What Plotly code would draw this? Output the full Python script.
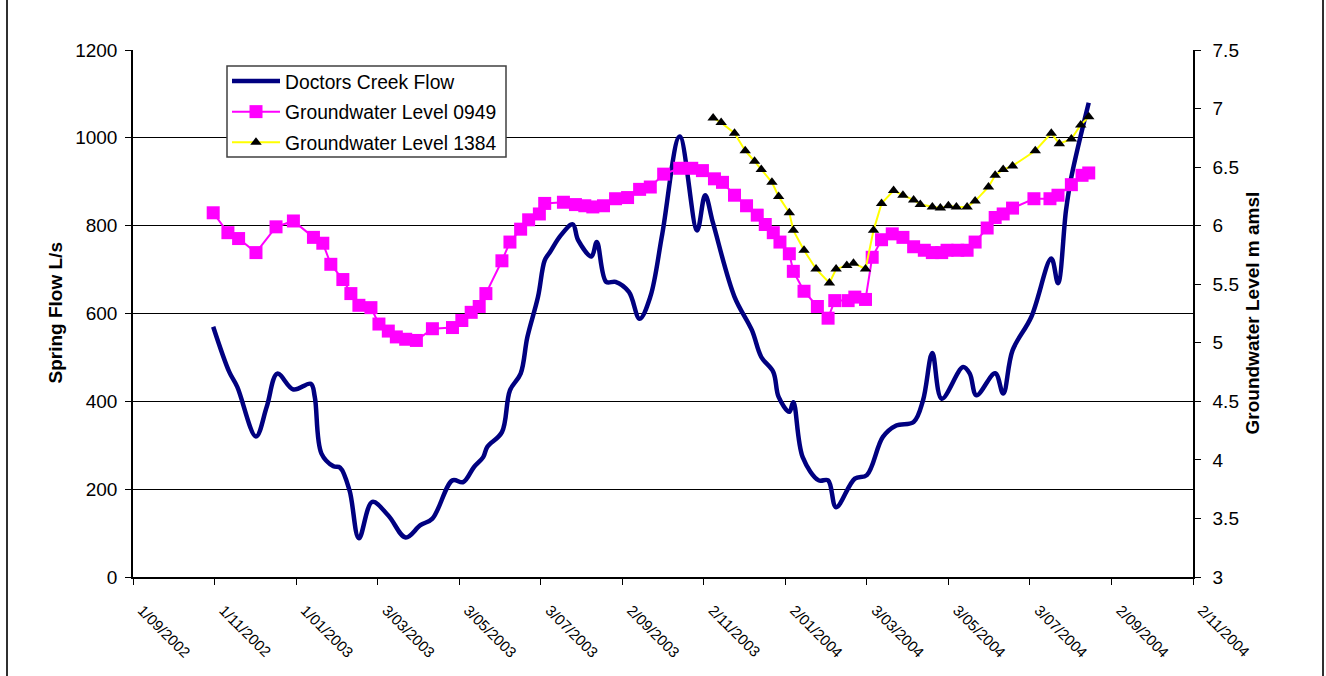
import plotly.graph_objects as go

# Doctors Creek flow (L/s)
flow_dates = [
    "2002-10-31", "2002-11-12", "2002-11-18", "2002-12-02", "2002-12-10", "2002-12-18",
    "2002-12-30", "2003-01-12", "2003-01-15", "2003-01-20", "2003-01-29", "2003-02-03",
    "2003-02-10", "2003-02-17", "2003-02-27", "2003-03-11", "2003-03-24", "2003-04-04",
    "2003-04-13", "2003-04-28", "2003-05-06", "2003-05-14", "2003-05-21", "2003-05-24",
    "2003-06-04", "2003-06-10", "2003-06-18", "2003-06-23", "2003-07-01", "2003-07-06",
    "2003-07-10", "2003-07-18", "2003-07-27", "2003-07-31", "2003-08-10", "2003-08-14",
    "2003-08-21", "2003-08-28", "2003-09-07", "2003-09-15", "2003-09-23", "2003-10-02",
    "2003-10-15", "2003-10-28", "2003-11-03", "2003-11-09", "2003-11-25", "2003-12-08",
    "2003-12-15", "2003-12-24", "2003-12-28", "2004-01-05", "2004-01-08", "2004-01-15",
    "2004-01-27", "2004-02-03", "2004-02-09", "2004-02-23", "2004-03-03", "2004-03-15",
    "2004-03-25", "2004-04-07", "2004-04-14", "2004-04-21", "2004-04-28", "2004-05-14",
    "2004-05-19", "2004-05-24", "2004-06-07", "2004-06-13", "2004-06-20", "2004-07-04",
    "2004-07-19", "2004-07-24", "2004-07-30", "2004-08-03", "2004-08-16",
]
flow_values = [
    570, 467, 433, 320, 387, 463,
    427, 440, 410, 281, 252, 249,
    197, 88, 171, 140, 90, 118,
    133, 220, 216, 250, 273, 296,
    330, 425, 463, 546, 638, 721,
    740, 778, 803, 767, 730, 763,
    672, 672, 649, 588, 638, 782,
    1003, 789, 869, 805, 638, 562,
    501, 467, 410, 376, 398, 273,
    220, 220, 159, 224, 232, 319,
    345, 353, 402, 510, 406, 478,
    463, 414, 464, 418, 516, 592,
    725, 669, 835, 911, 1080,
]

# Bore 0949 groundwater level (m amsl)
gw0949_dates = [
    "2002-10-31", "2002-11-11", "2002-11-19", "2002-12-02", "2002-12-17", "2002-12-30",
    "2003-01-14", "2003-01-21", "2003-01-27", "2003-02-05", "2003-02-11", "2003-02-17",
    "2003-02-26", "2003-03-04", "2003-03-11", "2003-03-17", "2003-03-24", "2003-04-01",
    "2003-04-13", "2003-04-28", "2003-05-05", "2003-05-12", "2003-05-18", "2003-05-23",
    "2003-06-04", "2003-06-10", "2003-06-18", "2003-06-24", "2003-07-02", "2003-07-06",
    "2003-07-20", "2003-07-29", "2003-08-05", "2003-08-11", "2003-08-19", "2003-08-28",
    "2003-09-06", "2003-09-15", "2003-09-23", "2003-10-03", "2003-10-15", "2003-10-24",
    "2003-11-01", "2003-11-10", "2003-11-16", "2003-11-25", "2003-12-04", "2003-12-12",
    "2003-12-18", "2003-12-24", "2003-12-29", "2004-01-05", "2004-01-08", "2004-01-16",
    "2004-01-26", "2004-02-03", "2004-02-08", "2004-02-18", "2004-02-23", "2004-03-02",
    "2004-03-07", "2004-03-14", "2004-03-22", "2004-03-30", "2004-04-07", "2004-04-15",
    "2004-04-21", "2004-04-28", "2004-05-02", "2004-05-10", "2004-05-17", "2004-05-23",
    "2004-06-01", "2004-06-07", "2004-06-13", "2004-06-20", "2004-07-06", "2004-07-18",
    "2004-07-24", "2004-08-03", "2004-08-11", "2004-08-16",
]
gw0949_values = [
    6.11, 5.94, 5.89, 5.77, 5.99, 6.04,
    5.90, 5.85, 5.67, 5.54, 5.42, 5.32,
    5.30, 5.16, 5.10, 5.05, 5.03, 5.02,
    5.12, 5.13, 5.19, 5.26, 5.31, 5.42,
    5.70, 5.86, 5.97, 6.05, 6.10, 6.19,
    6.20, 6.18, 6.17, 6.16, 6.17, 6.23,
    6.24, 6.31, 6.33, 6.44, 6.49, 6.49,
    6.47, 6.40, 6.37, 6.26, 6.17, 6.09,
    6.01, 5.94, 5.86, 5.76, 5.61, 5.44,
    5.31, 5.21, 5.36, 5.36, 5.39, 5.37,
    5.73, 5.88, 5.93, 5.90, 5.82, 5.79,
    5.77, 5.77, 5.79, 5.79, 5.79, 5.86,
    5.98, 6.07, 6.10, 6.15, 6.23, 6.23,
    6.26, 6.35, 6.43, 6.45,
]

# Bore 1384 groundwater level (m amsl)
gw1384_dates = [
    "2003-11-09", "2003-11-15", "2003-11-25", "2003-12-03", "2003-12-10", "2003-12-15",
    "2003-12-23", "2003-12-28", "2004-01-05", "2004-01-08", "2004-01-16", "2004-01-25",
    "2004-02-04", "2004-02-09", "2004-02-17", "2004-02-22", "2004-03-02", "2004-03-08",
    "2004-03-14", "2004-03-23", "2004-03-30", "2004-04-07", "2004-04-12", "2004-04-21",
    "2004-04-27", "2004-05-03", "2004-05-09", "2004-05-17", "2004-05-23", "2004-06-02",
    "2004-06-07", "2004-06-13", "2004-06-20", "2004-07-07", "2004-07-19", "2004-07-25",
    "2004-08-03", "2004-08-10", "2004-08-16",
]
gw1384_values = [
    6.92, 6.88, 6.79, 6.64, 6.55, 6.48,
    6.37, 6.25, 6.11, 5.96, 5.79, 5.63,
    5.51, 5.63, 5.66, 5.68, 5.63, 5.96,
    6.19, 6.30, 6.26, 6.22, 6.18, 6.16,
    6.15, 6.17, 6.16, 6.16, 6.21, 6.33,
    6.43, 6.48, 6.51, 6.64, 6.79, 6.70,
    6.74, 6.86, 6.93,
]

# Date axis labels every 61 days
tick_dates = [
    "2002-09-01", "2002-11-01", "2003-01-01", "2003-03-03", "2003-05-03", "2003-07-03",
    "2003-09-02", "2003-11-02", "2004-01-02", "2004-03-03", "2004-05-03", "2004-07-03",
    "2004-09-02", "2004-11-02",
]
tick_labels = [
    "1/09/2002", "1/11/2002", "1/01/2003", "3/03/2003", "3/05/2003", "3/07/2003",
    "2/09/2003", "2/11/2003", "2/01/2004", "3/03/2004", "3/05/2004", "3/07/2004",
    "2/09/2004", "2/11/2004",
]

FONT = "Liberation Sans, Arial, sans-serif"

# plot area in pixels: x 133..1193, y 50..577
PX_L, PX_R, PX_T, PX_B = 133, 1193, 50, 577


def px_x(px):
    return (px - PX_L) / (PX_R - PX_L)


def px_y(py):
    return (PX_B - py) / (PX_B - PX_T)


fig = go.Figure()

fig.add_trace(go.Scatter(
    x=flow_dates, y=flow_values, name="Doctors Creek Flow",
    mode="lines", line=dict(color="#000080", width=4.5, shape="spline", smoothing=1.0),
    legendgroup="a",
))
fig.add_trace(go.Scatter(
    x=gw0949_dates, y=gw0949_values, name="Groundwater Level 0949", yaxis="y2",
    mode="lines+markers", line=dict(color="#FF00FF", width=2),
    marker=dict(symbol="square", size=13, color="#FF00FF"),
    legendgroup="b",
))
fig.add_trace(go.Scatter(
    x=gw1384_dates, y=gw1384_values, name="Groundwater Level 1384", yaxis="y2",
    mode="lines+markers", line=dict(color="#FFFF00", width=2),
    marker=dict(symbol="triangle-up", size=10, color="#000000"),
    legendgroup="c",
))

fig.update_layout(
    width=1326, height=676,
    margin=dict(l=PX_L, r=1326 - PX_R, t=PX_T, b=676 - PX_B),
    paper_bgcolor="white", plot_bgcolor="white",
    font=dict(family=FONT, color="black", size=18),
    showlegend=True,
    legend=dict(
        x=px_x(227), y=px_y(62), xanchor="left", yanchor="top",
        bgcolor="rgba(0,0,0,0)", borderwidth=0,
        font=dict(size=19.3, family=FONT), traceorder="grouped", tracegroupgap=2.5,
        itemwidth=48,
    ),
    xaxis=dict(
        type="date", range=["2002-09-01", "2004-11-02"],
        tickvals=tick_dates, ticktext=tick_labels, tickangle=45,
        tickfont=dict(size=15, family=FONT),
        ticks="outside", ticklen=6, tickcolor="black",
        showgrid=False, zeroline=False,
        showline=True, linecolor="black", linewidth=1.5,
        ticklabelstandoff=11, ticklabelshift=9,
    ),
    yaxis=dict(
        range=[0, 1200], dtick=200, tickformat="d",
        tickfont=dict(size=19, family=FONT),
        ticks="outside", ticklen=6, tickcolor="black",
        showgrid=True, gridcolor="black", gridwidth=1,
        zeroline=False, showline=True, linecolor="black", linewidth=1.5,
        ticklabelstandoff=4,
    ),
    yaxis2=dict(
        range=[3, 7.5], dtick=0.5, overlaying="y", side="right",
        tickfont=dict(size=19, family=FONT),
        ticks="outside", ticklen=6, tickcolor="black",
        showgrid=False, zeroline=False,
        showline=True, linecolor="black", linewidth=1.5,
        ticklabelstandoff=8,
    ),
    annotations=[
        dict(text="<b>Spring Flow L/s</b>", textangle=-90, showarrow=False,
             xref="paper", yref="paper", x=px_x(55), y=0.5,
             xanchor="center", yanchor="middle", font=dict(size=19, family=FONT)),
        dict(text="<b>Groundwater Level m amsl</b>", textangle=-90, showarrow=False,
             xref="paper", yref="paper", x=px_x(1252), y=0.5,
             xanchor="center", yanchor="middle", font=dict(size=19, family=FONT)),
    ],
    shapes=[
        # legend frame
        dict(type="rect", xref="paper", yref="paper", layer="above",
             x0=px_x(227), x1=px_x(506), y0=px_y(157), y1=px_y(66),
             fillcolor="white", line=dict(color="#404040", width=1.5)),
        # chart frame
        dict(type="line", xref="paper", yref="paper", x0=px_x(7), x1=px_x(7),
             y0=px_y(676), y1=px_y(0), line=dict(color="#303030", width=2)),
        dict(type="line", xref="paper", yref="paper", x0=px_x(1323), x1=px_x(1323),
             y0=px_y(676), y1=px_y(0), line=dict(color="#303030", width=2)),
    ],
)

fig.write_html("out.html")
